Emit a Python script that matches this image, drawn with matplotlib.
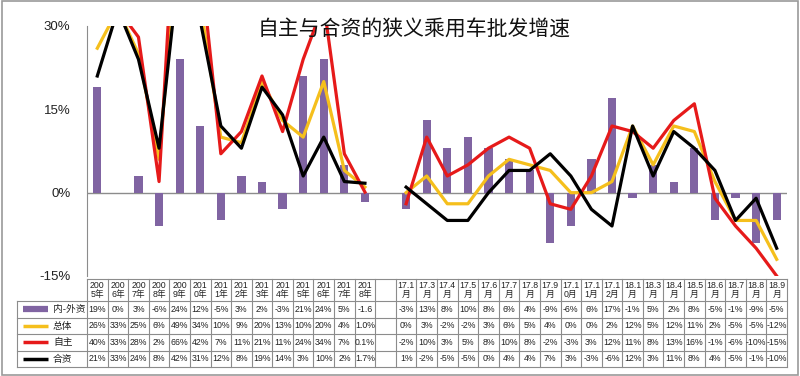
import numpy as np
import matplotlib.pyplot as plt
from matplotlib.patches import Rectangle

plt.rcParams['font.family'] = ['Liberation Sans', 'Noto Sans CJK SC', 'DejaVu Sans']

# categorias: años, columna vacía, meses
categories = ['2005年', '2006年', '2007年', '2008年', '2009年', '2010年', '2011年',
              '2012年', '2013年', '2014年', '2015年', '2016年', '2017年', '2018年',
              '',
              '17.1月', '17.3月', '17.4月', '17.5月', '17.6月', '17.7月', '17.8月',
              '17.9月', '17.10月', '17.11月', '17.12月', '18.1月', '18.3月', '18.4月',
              '18.5月', '18.6月', '18.7月', '18.8月', '18.9月']

gap = np.nan
diff = [19, 0, 3, -6, 24, 12, -5, 3, 2, -3, 21, 24, 5, -1.6, gap,
        -3, 13, 8, 10, 8, 6, 4, -9, -6, 6, 17, -1, 5, 2, 8, -5, -1, -9, -5]
total = [26, 33, 25, 6, 49, 34, 10, 9, 20, 13, 10, 20, 4, 1.0, gap,
         0, 3, -2, -2, 3, 6, 5, 4, 0, 0, 2, 12, 5, 12, 11, 2, -5, -5, -12]
own = [40, 33, 28, 2, 66, 42, 7, 11, 21, 11, 24, 34, 7, 0.1, gap,
       -2, 10, 3, 5, 8, 10, 8, -2, -3, 3, 12, 11, 8, 13, 16, -1, -6, -10, -15]
joint = [21, 33, 24, 8, 42, 31, 12, 8, 19, 14, 3, 10, 2, 1.7, gap,
         1, -2, -5, -5, 0, 4, 4, 7, 3, -3, -6, 12, 3, 11, 8, 4, -5, -1, -10]

series_names = ['内-外资', '总体', '自主', '合资']
yticks = [-15, 0, 15, 30]
one_decimal = ['2018年']

title = '自主与合资的狭义乘用车批发增速'

purple = '#8064A2'
yellow = '#F5BF1C'
red = '#E61A1A'
black = '#000000'
grid_c = '#8C8C8C'

W, H = 800, 376
fig = plt.figure(figsize=(8, 3.76), dpi=100)

# posiciones en pixeles
x0, x1 = 87, 787
y_top, y_bot = 26, 276
ax = fig.add_axes([x0 / W, 1 - y_bot / H, (x1 - x0) / W, (y_bot - y_top) / H])

n = len(categories)
x = np.arange(n)

ax.bar(x, diff, width=0.4, color=purple, zorder=2)
ax.plot(x, total, color=yellow, lw=2.3, zorder=3)
ax.plot(x, own, color=red, lw=2.3, zorder=4)
ax.plot(x, joint, color=black, lw=2.3, zorder=5)
ax.axhline(0, color=grid_c, lw=1, zorder=1)

ax.set_xlim(-0.5, n - 0.5)
ax.set_ylim(-15, 30)
ax.set_yticks(yticks)
ax.set_yticklabels([f'{t}%' for t in yticks], fontsize=9.5, color='#222222')
ax.tick_params(axis='y', length=0, pad=12)
ax.set_xticks([])
for s in ['top', 'right', 'bottom']:
    ax.spines[s].set_visible(False)
ax.spines['left'].set_color(grid_c)

fig.text(414 / W, 1 - 29 / H, title, ha='center', va='center', fontsize=15,
         family=['Noto Sans CJK SC'], color='#111111')

# tabla de datos
t_top, t_bot = 279, 367
ax_t = fig.add_axes([x0 / W, 1 - t_bot / H, (x1 - x0) / W, (t_bot - t_top) / H])
ax_t.set_xlim(-0.5, n - 0.5)
ax_t.set_ylim(t_bot - t_top, 0)
ax_t.axis('off')

w = (x1 - x0) / n
def px2x(px):
    return -0.5 + (px - x0) / w

hdr = 22
row_h = (t_bot - t_top - hdr) / 4
rows_y = [hdr + i * row_h for i in range(5)]
xl = px2x(17)

lkw = dict(color=grid_c, lw=0.8, clip_on=False)
ax_t.plot([-0.5, n - 0.5], [0, 0], **lkw)
for yy in rows_y:
    ax_t.plot([xl, n - 0.5], [yy, yy], **lkw)
ax_t.plot([xl, xl], [hdr, rows_y[-1]], **lkw)
for k in range(n + 1):
    ax_t.plot([k - 0.5, k - 0.5], [0, rows_y[-1]], **lkw)

for i, c in enumerate(categories):
    if not c:
        continue
    cut = 3 if c.endswith('年') else 4
    ax_t.text(i, hdr / 2, c[:cut] + '\n' + c[cut:], ha='center', va='center',
              fontsize=6.3, linespacing=1.0, color='#222222')

data_rows = [diff, total, own, joint]
colors = [purple, yellow, red, black]
for r, (vals, col, name) in enumerate(zip(data_rows, colors, series_names)):
    yc = rows_y[r] + row_h / 2
    ax_t.plot([px2x(23), px2x(48)], [yc, yc], color=col,
              lw=4.5 if r == 0 else 2.5, clip_on=False, solid_capstyle='butt')
    ax_t.text(px2x(53), yc, name, ha='left', va='center', fontsize=7,
              color='#222222', clip_on=False)
    for i, v in enumerate(vals):
        if np.isnan(v):
            continue
        if categories[i] in one_decimal:
            s = f'{v:.1f}%'
            if len(s) > 4:
                s = s[:-1]
        else:
            s = f'{v:.0f}%'
        ax_t.text(i, yc, s, ha='center', va='center', fontsize=6.3, color='#222222')

fig.patches.append(Rectangle((0.002, 0.003), 0.996, 0.994, transform=fig.transFigure,
                             fill=False, edgecolor='#9A9A9A', lw=1.2))

fig.savefig('out.png', dpi=100)
